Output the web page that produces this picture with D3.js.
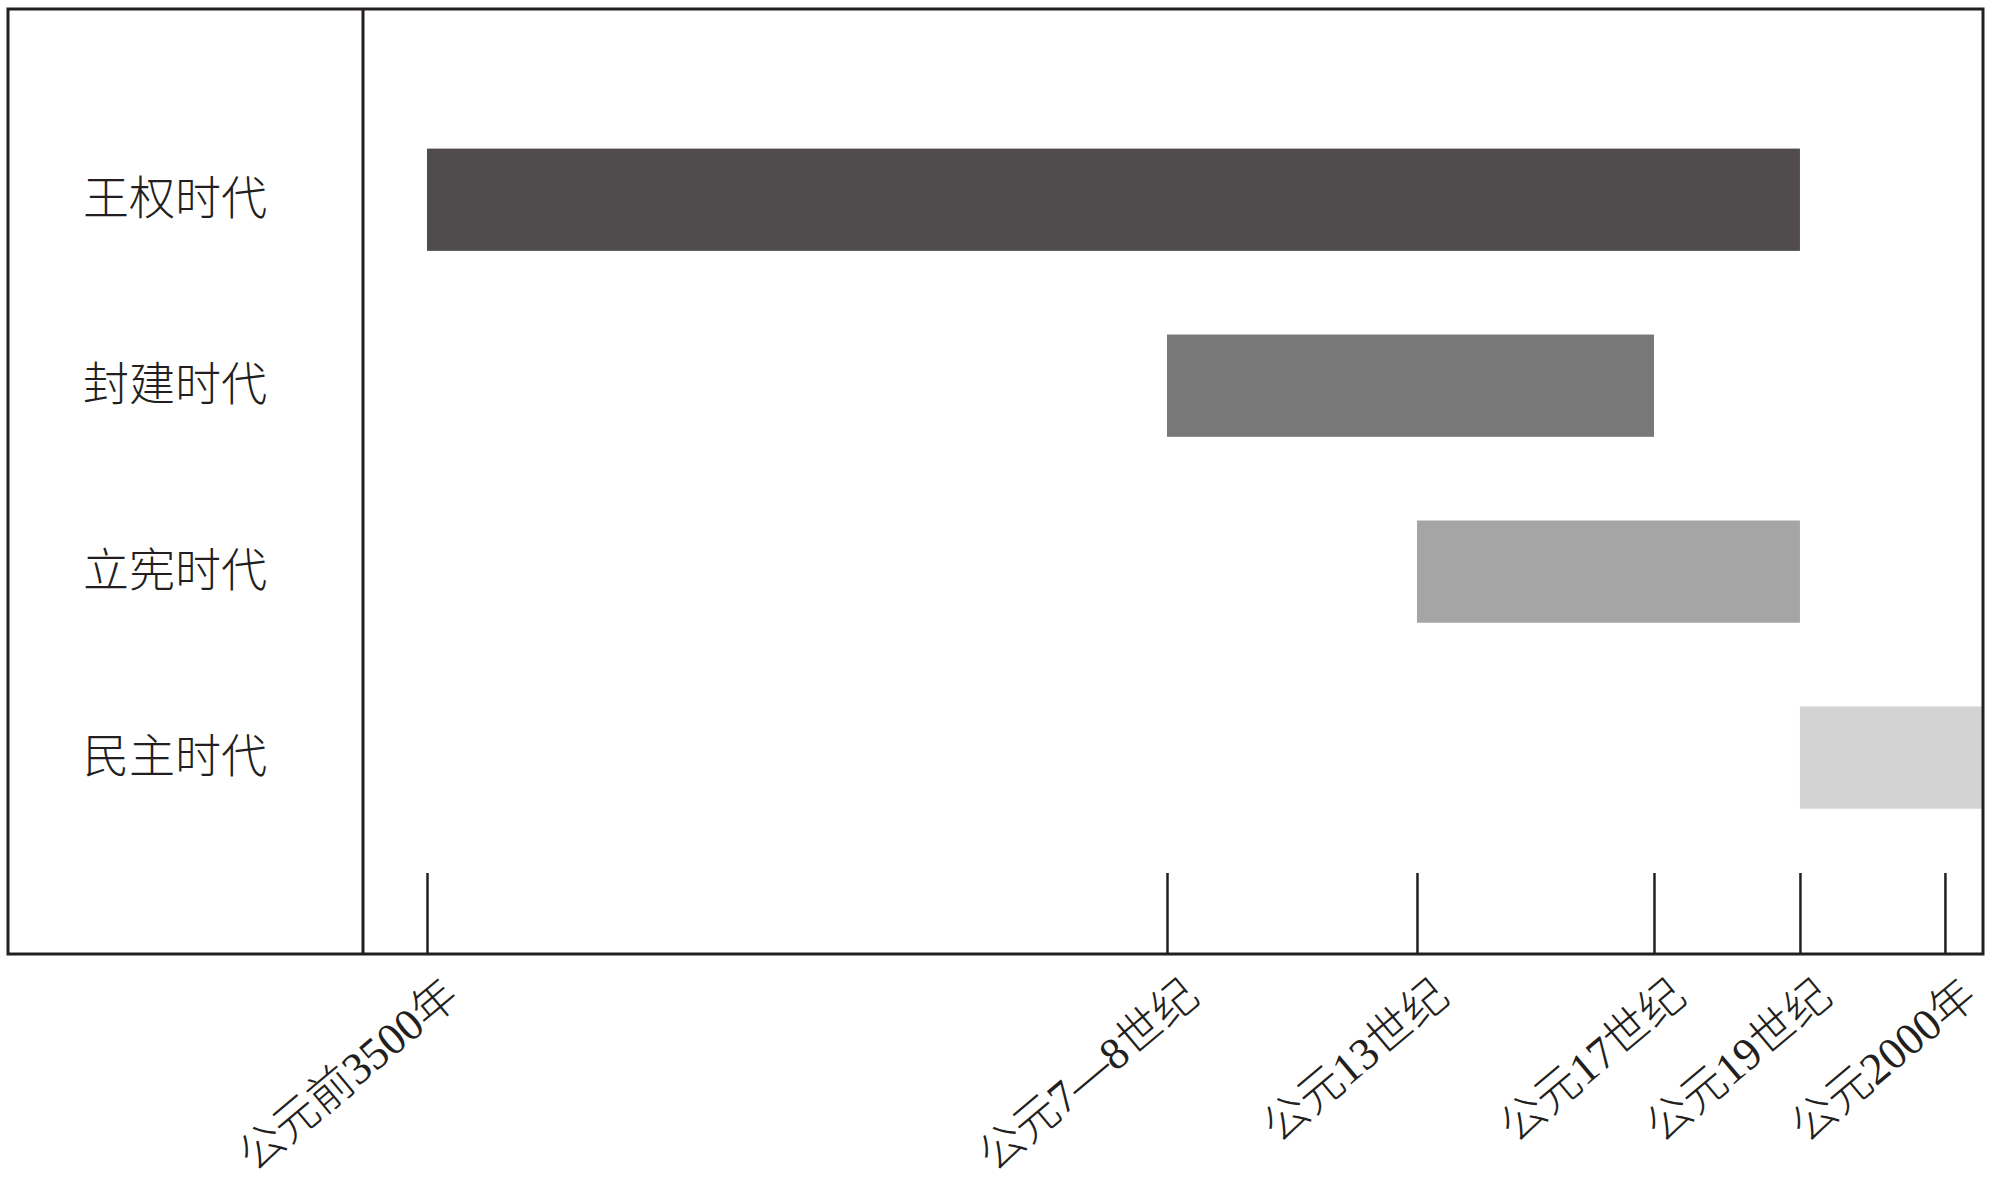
<!DOCTYPE html>
<html>
<head>
<meta charset="utf-8">
<script src="https://cdn.jsdelivr.net/npm/d3@7/dist/d3.min.js"></script>
<style>
    body { margin: 0; background: #fff; }
    svg { display: block; }
    .era-label { font-family: "Noto Sans CJK SC", sans-serif; font-size: 46px; font-weight: 300; fill: #231f20; }
    .axis .tick text { font-family: "Liberation Serif", "Noto Sans CJK SC", serif; font-size: 45px; font-weight: 300; fill: #231f20; }
</style>
</head>
<body>
<svg width="1993" height="1183"></svg>
<script>
// eras of the timeline, start / end given as (approximate) years
var eras = ["王权时代", "封建时代", "立宪时代", "民主时代"];
var eraStart = [-3500, 750, 1250, 1850];
var eraEnd = [1850, 1650, 1850, 2040];

// axis marks
var tickYears = [-3500, 750, 1250, 1650, 1850, 2000];
var tickLabels = ["公元前3500年", "公元7—8世纪", "公元13世纪", "公元17世纪", "公元19世纪", "公元2000年"];

window.onload = function(){ initChart() }
function initChart() {
    var svg = d3.select("svg");

    var frame = { left: 8, top: 9, right: 1983, bottom: 954 },
        divider = 363;
    var plotW = frame.right - divider;

    // schematic (non-linear) time axis: piecewise linear between the marked dates
    var x = d3.scaleLinear()
        .domain(tickYears.concat([2040]))
        .range([0.0395, 0.4963, 0.6506, 0.7969, 0.887, 0.9765, 1].map(function (f) {
            return divider + f * plotW;
        }))
        .clamp(true);

    var y = d3.scaleBand()
        .domain(eras)
        .range([frame.top, frame.bottom])
        .paddingInner(0.45)
        .paddingOuter(0.766)
        .align(0.49);

    var color = d3.scaleOrdinal()
        .domain(eras)
        .range(["#504b4c", "#797878", "#a6a5a6", "#d3d3d3"]);

    var data = eras.map(function (d, i) {
        return { name: d, start: eraStart[i], end: eraEnd[i] };
    });

    // bars
    svg.append("g")
        .attr("class", "bars")
        .selectAll("rect")
        .data(data)
        .enter().append("rect")
        .attr("x", function (d) { return x(d.start); })
        .attr("y", function (d) { return y(d.name); })
        .attr("width", function (d) { return x(d.end) - x(d.start); })
        .attr("height", y.bandwidth())
        .attr("fill", function (d) { return color(d.name); });

    // era names in the left panel
    svg.append("g")
        .selectAll("text")
        .data(eras)
        .enter().append("text")
        .attr("class", "era-label")
        .attr("x", 83)
        .attr("y", function (d) { return y(d) + y.bandwidth() / 2 - 6; })
        .attr("dominant-baseline", "central")
        .text(function (d) { return d; });

    // ticks rise from the bottom of the frame, labels slant below
    var axis = d3.axisBottom(x)
        .tickValues(tickYears)
        .tickFormat(function (d, i) { return tickLabels[i]; })
        .tickSizeInner(-81)
        .tickSizeOuter(0);

    var gx = svg.append("g")
        .attr("class", "axis")
        .attr("transform", "translate(0," + frame.bottom + ")")
        .call(axis);
    gx.select(".domain").remove();
    gx.selectAll(".tick line")
        .attr("stroke", "#231f20")
        .attr("stroke-width", 2.5);
    gx.selectAll(".tick text")
        .attr("text-anchor", "end")
        .attr("x", null).attr("y", null).attr("dy", null)
        .attr("transform", "translate(34,46) rotate(-40)");

    // frame and divider
    svg.append("rect")
        .attr("x", frame.left)
        .attr("y", frame.top)
        .attr("width", frame.right - frame.left)
        .attr("height", frame.bottom - frame.top)
        .attr("fill", "none")
        .attr("stroke", "#231f20")
        .attr("stroke-width", 3);
    svg.append("line")
        .attr("x1", divider).attr("x2", divider)
        .attr("y1", frame.top).attr("y2", frame.bottom)
        .attr("stroke", "#231f20")
        .attr("stroke-width", 3);
}
</script>
</body>
</html>
